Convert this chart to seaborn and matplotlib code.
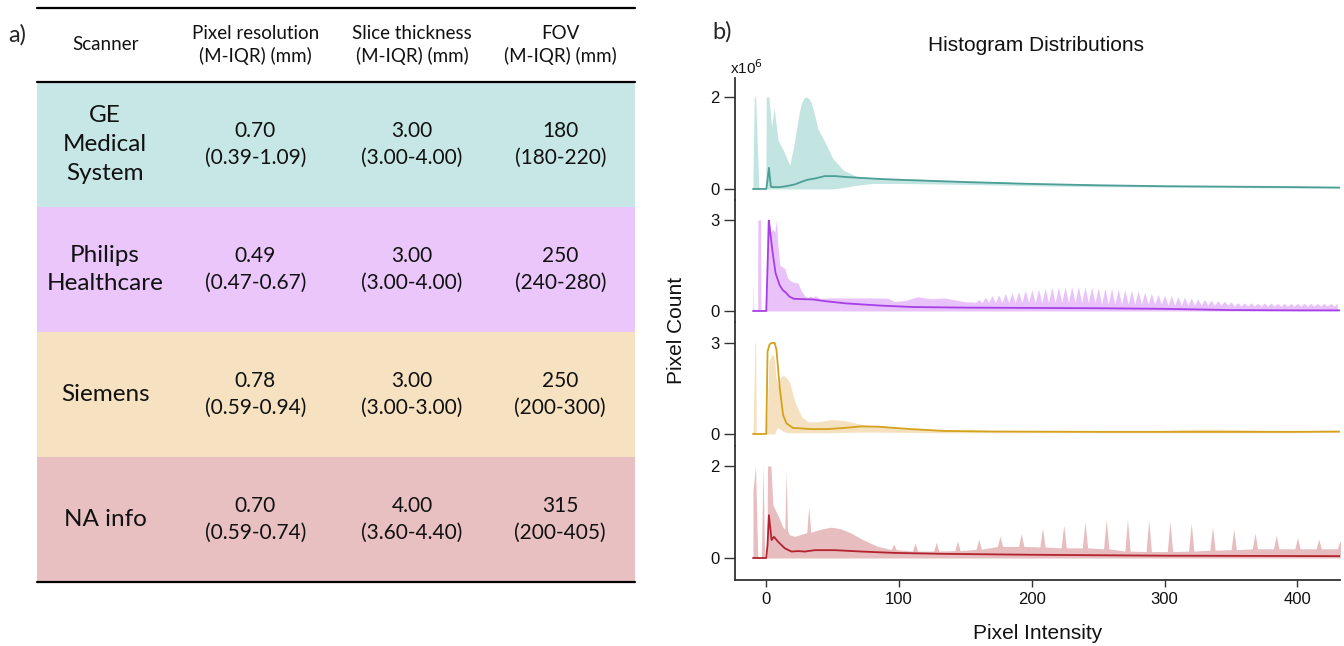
import matplotlib
matplotlib.use("Agg")
import matplotlib.pyplot as plt
import numpy as np
import pandas as pd
import seaborn as sns

sns.set_theme(style="white")
plt.rcParams["font.family"] = ["Liberation Sans", "DejaVu Sans"]
TABLE_FONT = ["Lato", "DejaVu Sans"]

# ---- table (panel a) ----
scanners = ["GE\nMedical\nSystem", "Philips\nHealthcare", "Siemens", "NA info"]
headers = ["Scanner", "Pixel resolution\n(M-IQR) (mm)", "Slice thickness\n(M-IQR) (mm)", "FOV\n(M-IQR) (mm)"]
pixel_med = ["0.70", "0.49", "0.78", "0.70"]
pixel_iqr = ["0.39-1.09", "0.47-0.67", "0.59-0.94", "0.59-0.74"]
slice_med = ["3.00", "3.00", "3.00", "4.00"]
slice_iqr = ["3.00-4.00", "3.00-4.00", "3.00-3.00", "3.60-4.40"]
fov_med = ["180", "250", "250", "315"]
fov_iqr = ["180-220", "240-280", "200-300", "200-405"]
row_colors = ["#c6e7e5", "#ebc6fb", "#f6e1c1", "#e8c0c1"]

# ---- histogram envelopes (panel b), counts in 1e6 ----
ge_bx = [-10, -9, -8, -5.5, -0.3, 0, 2, 4, 5.9, 8.9, 12.7, 17.7, 20.5, 22.7, 24.6, 26.5,
         28.5, 30.3, 32, 34, 36.5, 39, 44, 50, 58, 68, 80, 100, 150, 200, 250, 300, 350,
         400, 432]
ge_hi = [0.3, 2.0, 2.0, 0, 0, 2.0, 2.0, 1.35, 1.76, 1.06, 0.85, 0.52, 0.9, 1.28, 1.62,
         1.87, 1.98, 2.0, 1.97, 1.87, 1.6, 1.3, 1.03, 0.67, 0.41, 0.27, 0.23, 0.23, 0.18,
         0.13, 0.1, 0.08, 0.07, 0.06, 0.05]
ge_lo = [0, 0, 0, 0, 0, 0, 0, 0, 0, 0, 0, 0, 0, 0, 0, 0, 0, 0, 0, 0, 0, 0, 0, 0,
         0.03, 0.08, 0.12, 0.12, 0.1, 0.07, 0.05, 0.04, 0.03, 0.02, 0.02]
ge_lx = [-10, 0, 1, 2, 3.5, 5, 10, 15, 21.5, 26, 31, 37, 44, 52, 60, 84, 100, 150,
         200, 250, 300, 350, 400, 432]
ge_ly = [0, 0, 0.2, 0.46, 0.05, 0.04, 0.04, 0.06, 0.1, 0.15, 0.2, 0.23, 0.28, 0.28,
         0.26, 0.22, 0.2, 0.15, 0.11, 0.08, 0.06, 0.05, 0.04, 0.03]

ph_bx = [-10, -9.3, -6.5, -6.3, -4.2, -4, 0, 0.5, 2, 3.5, 5, 6.5, 7.6, 8.5, 10.2, 12,
         14, 16, 17.6, 20, 23.9, 26, 28.9, 31.4, 33, 35, 37, 40, 50, 60, 70, 80, 91.6,
         96.6, 105, 114, 124, 134, 144, 150]
ph_hi = [0.97, 0, 0, 3.0, 3.0, 0, 0, 3.0, 3.0, 2.6, 2.7, 2.6, 3.0, 2.3, 1.52, 1.45,
         1.4, 1.1, 1.02, 0.95, 0.92, 0.7, 0.5, 0.43, 0.5, 0.45, 0.5, 0.42, 0.43, 0.43,
         0.43, 0.43, 0.42, 0.31, 0.35, 0.47, 0.4, 0.43, 0.35, 0.30]
ph_spike_x = [155, 160, 165, 170, 175, 180, 185, 190, 195, 200, 205, 210, 215, 220,
              225, 230, 235, 240, 245, 250, 255, 260, 265, 270, 275, 280, 285, 290,
              295, 300, 305, 310, 315, 320, 325, 330, 335, 340, 345, 350, 355, 360,
              365, 370, 375, 380, 385, 390, 395, 400, 405, 410, 415, 420, 425, 430]
ph_spike_hi = [0.30, 0.38, 0.45, 0.50, 0.53, 0.58, 0.60, 0.64, 0.68, 0.70, 0.72, 0.75,
               0.78, 0.79, 0.80, 0.80, 0.80, 0.79, 0.78, 0.76, 0.75, 0.74, 0.72, 0.70,
               0.68, 0.66, 0.62, 0.58, 0.55, 0.52, 0.50, 0.47, 0.45, 0.42, 0.40, 0.38,
               0.36, 0.34, 0.32, 0.30, 0.28, 0.27, 0.27, 0.26, 0.26, 0.26, 0.25, 0.25,
               0.25, 0.25, 0.25, 0.25, 0.25, 0.25, 0.25, 0.25]
ph_spike_lo = [0.28, 0.28, 0.28, 0.28, 0.28, 0.28, 0.28, 0.28, 0.28, 0.28, 0.28, 0.28,
               0.28, 0.28, 0.28, 0.28, 0.28, 0.28, 0.28, 0.23, 0.23, 0.23, 0.23, 0.23,
               0.23, 0.23, 0.23, 0.23, 0.23, 0.19, 0.19, 0.19, 0.19, 0.19, 0.19, 0.19,
               0.19, 0.19, 0.19, 0.16, 0.16, 0.16, 0.16, 0.16, 0.16, 0.16, 0.16, 0.16,
               0.16, 0.16, 0.16, 0.16, 0.16, 0.16, 0.16, 0.16]
ph_lx = [-10, 0, 1, 2, 3, 4.6, 7, 10, 12.4, 14.9, 17.5, 21, 28, 35, 45, 60, 85, 110,
         150, 200, 250, 300, 350, 400, 432]
ph_ly = [0, 0, 1.5, 2.98, 2.6, 2.0, 1.25, 0.86, 0.69, 0.6, 0.47, 0.4, 0.39, 0.38, 0.32,
         0.25, 0.18, 0.13, 0.11, 0.1, 0.09, 0.07, 0.03, 0.02, 0.02]

si_bx = [-10, -8.5, -8, -7.5, 0, 1, 2, 4, 5.5, 6.4, 7.5, 9, 10.5, 12.7, 15, 17.5, 21.5,
         26.5, 31.5, 39, 49, 59, 72, 84, 109, 134, 172, 200, 250, 290, 315, 340, 365,
         400, 432]
si_hi = [0, 3.0, 3.0, 0, 0, 1.0, 2.4, 2.6, 2.6, 2.4, 1.8, 1.6, 1.85, 1.94, 1.85, 1.72,
         1.07, 0.57, 0.4, 0.4, 0.47, 0.44, 0.31, 0.24, 0.17, 0.12, 0.1, 0.09, 0.08, 0.1,
         0.15, 0.16, 0.13, 0.11, 0.1]
si_lo = [0, 0, 0, 0, 0, 0, 0, 0, 0, 0, 0.15, 0.2, 0.15, 0.08, 0.05, 0.04, 0.04, 0.04,
         0.04, 0.04, 0.04, 0.05, 0.06, 0.06, 0.05, 0.04, 0.04, 0.04, 0.04, 0.04, 0.04,
         0.04, 0.04, 0.04, 0.05]
si_lx = [-10, 0, 1, 2.5, 4, 6.4, 7.7, 10.2, 12.7, 15.2, 20, 34, 46, 59, 72, 84, 109,
         134, 172, 250, 300, 350, 400, 432]
si_ly = [0, 0, 2.72, 2.95, 3.0, 3.0, 2.77, 1.5, 0.62, 0.35, 0.2, 0.16, 0.16, 0.2, 0.25,
         0.24, 0.16, 0.1, 0.08, 0.07, 0.07, 0.07, 0.07, 0.08]

na_bx = [-10, -8.1, -6.4, -3.7, -2.4, -1.2, 0.5, 1, 3.5, 5, 8.7, 12.4, 14, 15, 16, 17.7,
         21.5, 29, 30.5, 32, 33.5, 41.6, 49, 56.7, 64, 72, 84, 93.5]
na_hi = [1.45, 2.0, 0, 0, 2.0, 0, 0, 2.0, 2.0, 1.15, 0.93, 0.68, 0.62, 1.88, 0.6, 0.5,
         0.47, 0.54, 0.55, 1.12, 0.56, 0.63, 0.67, 0.63, 0.54, 0.41, 0.25, 0.19]
na_spike_x = [96, 112, 128, 144, 160, 176, 192, 208, 224, 240, 256, 272, 288, 304, 320,
              336, 352, 368, 384, 400, 416, 432]
na_spike_hi = [0.3, 0.32, 0.34, 0.37, 0.41, 0.47, 0.53, 0.65, 0.72, 0.79, 0.84, 0.84,
               0.83, 0.8, 0.76, 0.68, 0.63, 0.54, 0.5, 0.44, 0.41, 0.37]
na_spike_base = [0.18, 0.15, 0.15, 0.16, 0.19, 0.25, 0.25, 0.24, 0.22, 0.22, 0.2, 0.15,
                 0.14, 0.14, 0.15, 0.17, 0.18, 0.2, 0.2, 0.2, 0.2, 0.2]
na_lx = [-10, 0, 1, 2, 4, 5.8, 8.7, 14, 19, 24, 29, 36.5, 51.6, 72, 97, 134, 200, 300, 432]
na_ly = [0, 0, 0.3, 0.93, 0.39, 0.46, 0.36, 0.21, 0.14, 0.15, 0.14, 0.17, 0.17, 0.14,
         0.11, 0.09, 0.07, 0.05, 0.04]

# sawtooth tails appended to the envelopes
ph_x, ph_top = list(ph_bx), list(ph_hi)
for x, h, v in zip(ph_spike_x, ph_spike_hi, ph_spike_lo):
    ph_x += [x, x + 2.5]
    ph_top += [h, v]
ph_x, ph_top = ph_x[:-1], ph_top[:-1]

na_x, na_top = list(na_bx), list(na_hi)
for x, h, b in zip(na_spike_x, na_spike_hi, na_spike_base):
    na_x += [x - 2, x, x + 2]
    na_top += [b, h, b]

panels = [
    dict(bx=ge_bx, hi=ge_hi, lo=ge_lo, lx=ge_lx, ly=ge_ly, fill="#c2e5e1", line="#4d9e97",
         ylim=(-0.239, 2.413), tick=2),
    dict(bx=ph_x, hi=ph_top, lo=[0] * len(ph_x), lx=ph_lx, ly=ph_ly, fill="#e9c2f9",
         line="#a63fe8", ylim=(-0.363, 3.66), tick=3),
    dict(bx=si_bx, hi=si_hi, lo=si_lo, lx=si_lx, ly=si_ly, fill="#f5e1bf", line="#d4a21c",
         ylim=(-0.396, 3.69), tick=3),
    dict(bx=na_x, hi=na_top, lo=[0] * len(na_x), lx=na_lx, ly=na_ly, fill="#e7bdbf",
         line="#b3232f", ylim=(-0.478, 2.435), tick=2),
]

fig = plt.figure(figsize=(13.44, 6.46), dpi=100)

# ---- panel a: table ----
tab = fig.add_axes([0.0275, 0.099, 0.445, 0.8885])
tab.set_xlim(0, 1)
tab.set_ylim(4, -0.59)
tab.axis("off")
col_x = [0.114, 0.365, 0.627, 0.875]
for i, c in enumerate(row_colors):
    tab.axhspan(i, i + 1, color=c, lw=0)
for y in (-0.59, 0, 4):
    tab.axhline(y, color="black", lw=1.6, clip_on=False)
for cx, h in zip(col_x, headers):
    tab.text(cx, -0.295, h, ha="center", va="center", fontsize=13.5, linespacing=1.35,
             family=TABLE_FONT, color="#111")
for i in range(4):
    yc = i + 0.5
    tab.text(col_x[0], yc, scanners[i], ha="center", va="center", fontsize=17.5,
             linespacing=1.45, family=TABLE_FONT, color="#111")
    for cx, med, iqr in zip(col_x[1:], [pixel_med, slice_med, fov_med],
                            [pixel_iqr, slice_iqr, fov_iqr]):
        tab.text(cx, yc, f"{med[i]}\n({iqr[i]})", ha="center", va="center", fontsize=15,
                 linespacing=1.42, family=TABLE_FONT, color="#111")
fig.text(0.006, 0.946, "a)", fontsize=17, family=TABLE_FONT, va="center")

# ---- panel b: stacked histograms ----
gs = fig.add_gridspec(4, 1, left=0.547, right=0.997, top=0.8793, bottom=0.1022,
                      height_ratios=[122, 122, 124, 134], hspace=0)
axes = [fig.add_subplot(gs[i]) for i in range(4)]
for k, (ax, p) in enumerate(zip(axes, panels)):
    ax.fill_between(p["bx"], p["lo"], p["hi"], color=p["fill"], lw=0, zorder=1)
    sns.lineplot(x=p["lx"], y=p["ly"], ax=ax, color=p["line"], linewidth=1.3, zorder=2)
    ax.set_xlim(-23.4, 432)
    ax.set_ylim(*p["ylim"])
    ax.set_yticks([0, p["tick"]])
    ax.set_yticklabels(["0", str(p["tick"])])
    ax.set_facecolor("none")
    for s in ("top", "right"):
        ax.spines[s].set_visible(False)
    ax.spines["left"].set_color("#333333")
    ax.spines["left"].set_linewidth(1.3)
    ax.tick_params(axis="y", left=True, direction="out", length=8, width=1,
                   color="#333333", labelsize=12, pad=3, labelcolor="#111")
    if k < 3:
        ax.spines["bottom"].set_visible(False)
        ax.set_xticks([])
    else:
        ax.spines["bottom"].set_color("#333333")
        ax.spines["bottom"].set_linewidth(1.3)
        ax.set_xticks([0, 100, 200, 300, 400])
        ax.tick_params(axis="x", bottom=True, direction="out", length=5, width=1,
                       color="#333333", labelsize=12, pad=4, labelcolor="#111")
    ax.grid(False)

fig.text(0.530, 0.950, "b)", fontsize=17, family=TABLE_FONT, va="center")
fig.text(0.771, 0.929, "Histogram Distributions", fontsize=15, ha="center", va="center",
         color="#111")
fig.text(0.543, 0.895, r"x10$^6$", fontsize=11, va="center", color="#111")
fig.text(0.503, 0.489, "Pixel Count", fontsize=15, rotation=90, ha="center", va="center",
         color="#111")
fig.text(0.772, 0.019, "Pixel Intensity", fontsize=15, ha="center", va="center",
         color="#111")

fig.savefig("out.png", dpi=100)
